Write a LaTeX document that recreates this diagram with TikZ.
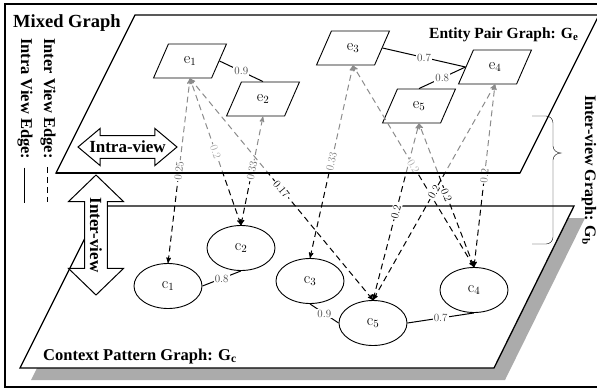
\documentclass[tikz,border=0pt]{standalone}
\usepackage{amsmath}
\usepackage{fontspec}
\newfontfamily\headfont{Liberation Serif}
\usetikzlibrary{arrows,positioning,shapes.geometric,shapes.arrows}

% inter view edges: from / to / weight / colour of the weight
\def\interlist{c1/e1/0.25/black!60, c2/e1/0.2/black!35, c2/e2/0.33/black!60,
	c5/e1/0.17/black, c3/e3/0.33/black!50, c4/e3/0.2/black!35, c4/e5/0.2/black,
	c5/e5/0.2/black, c5/e4/0.2/black, c4/e4/0.2/black!60}

\begin{document}
\begin{tikzpicture}
	[x=1pt,y=-1pt,on grid,>=stealth',
	entity/.style={trapezium,trapezium left angle=66,trapezium right angle=114,trapezium stretches=true,draw,fill=white,line width=0.9pt,minimum width=73pt,minimum height=34pt,inner sep=0pt,font=\fontsize{16}{16}\selectfont},
	ctx/.style={ellipse,draw,fill=white,line width=0.9pt,minimum width=68pt,minimum height=45pt,inner sep=0pt,font=\fontsize{16}{16}\selectfont},
	plane/.style={line width=1.3pt},
	intra/.style={line width=1pt},
	inter/.style={<->,line width=1pt,dash pattern=on 6pt off 4pt},
	weight/.style={fill=white,inner sep=1pt,font=\fontsize{11}{11}\selectfont},
	heading/.style={anchor=base west,inner sep=0pt,font=\headfont\bfseries\fontsize{16.5}{16.5}\selectfont},
	viewarrow/.style={double arrow,draw,fill=white,line width=1pt,font=\headfont\bfseries\fontsize{17}{17}\selectfont,inner ysep=5pt}]

	\useasboundingbox (0,0) rectangle (597,389);
	\draw [plane] (5,4) rectangle (620,387);

	% the two planes
	\fill [black!33] (112,218) -- (585,218) -- (505,380) -- (31,380) -- cycle;
	\draw [plane,fill=white] (101,206) -- (574,206) -- (494,368) -- (20,368) -- cycle;
	\draw [plane,fill=white] (135,15) -- (599,15) -- (520,173) -- (56,173) -- cycle;

	\node [heading,font=\headfont\bfseries\fontsize{18.5}{18.5}\selectfont] (mixed) at (13,27) {Mixed Graph};
	\node [heading,font=\headfont\bfseries\fontsize{15.5}{15.5}\selectfont] (gelbl) at (429,38) {Entity Pair Graph: G\textsubscript{e}};
	\node [heading] (gclbl) at (43,360) {Context Pattern Graph: G\textsubscript{c}};
	\node [heading,rotate=-90,font=\headfont\bfseries\fontsize{16}{16}\selectfont] (gblbl) at (585,95) {Inter-view Graph: G\textsubscript{b}};
	\node [heading,rotate=-90] (intralbl) at (21,38) {Intra View Edge:};
	\node [heading,rotate=-90] (interlbl) at (44,38) {Inter View Edge:};
	\draw [intra] ([yshift=-8pt]intralbl.east) -- ++(0,35);
	\draw [intra,dash pattern=on 6pt off 4pt] ([yshift=-8pt]interlbl.east) -- ++(0,35);

	\draw (532,116) -- (546,116) to[out=0,in=90] (553,123) -- (553,146) to[out=-90,in=180] (561,153)
		to[out=180,in=90] (553,160) -- (553,237) to[out=-90,in=0] (546,244) -- (532,244);

	\node [viewarrow,minimum height=99pt,inner xsep=-9pt,double arrow head extend=7pt,double arrow tip angle=80] (intrav) at (127.5,147) {Intra-view};
	\node [viewarrow,rotate=-90,minimum height=120pt,inner xsep=-3pt,double arrow head extend=16pt,double arrow tip angle=92] (interv) at (96,235) {Inter-view};

	% entity pair graph
	\node [entity](e1) at (190,61)                        {e$_1$};
	\node [entity](e2) [below right=38pt and 73pt of e1]  {e$_2$};
	\node [entity](e3) [above right=51pt and 90pt of e2]  {e$_3$};
	\node [entity](e5) [below right=58pt and 66pt of e3]  {e$_5$};
	\node [entity](e4) [above right=39pt and 76pt of e5]  {e$_4$};

	% context pattern graph
	\node [ctx](c1) at (168,286)                          {c$_1$};
	\node [ctx](c2) [above right=38pt and 73pt of c1]     {c$_2$};
	\node [ctx](c3) [below right=33pt and 69pt of c2]     {c$_3$};
	\node [ctx](c5) [below right=42pt and 63pt of c3]     {c$_5$};
	\node [ctx](c4) [above right=33pt and 101pt of c5]    {c$_4$};

	\draw [intra] (e1.east) -- node [weight,text=black!75] {0.9} (e2.north);
	\draw [intra] (e3.east) -- node [weight,text=black!75] {0.7} (e4.west);
	\draw [intra] (e5.north) -- node [weight,text=black!75] {0.8} (e4.west);
	\draw [intra] (c1.east) -- node [weight,text=black!75] {0.8} (c2.south);
	\draw [intra] (c3.south) -- node [weight,text=black!75] {0.9} (c5.west);
	\draw [intra] (c5.east) -- node [weight,text=black!75] {0.7} (c4.south);

	% gray inside the upper plane, black below it
	\begin{scope}
		\clip (0,0) rectangle (600,173);
		\foreach \c/\e/\w/\col in \interlist
			\draw [inter,draw=black!45] (\c.north) -- (\e.south);
	\end{scope}
	\begin{scope}
		\clip (0,173) rectangle (600,389);
		\foreach \c/\e/\w/\col in \interlist
			\draw [inter] (\c.north) -- (\e.south);
	\end{scope}
	\foreach \c/\e/\w/\col in \interlist
		\path (\c.north) -- node [weight,sloped,text=\col] {\w} (\e.south);
	\draw [plane] (56,173) -- (520,173);

\end{tikzpicture}
\end{document}
